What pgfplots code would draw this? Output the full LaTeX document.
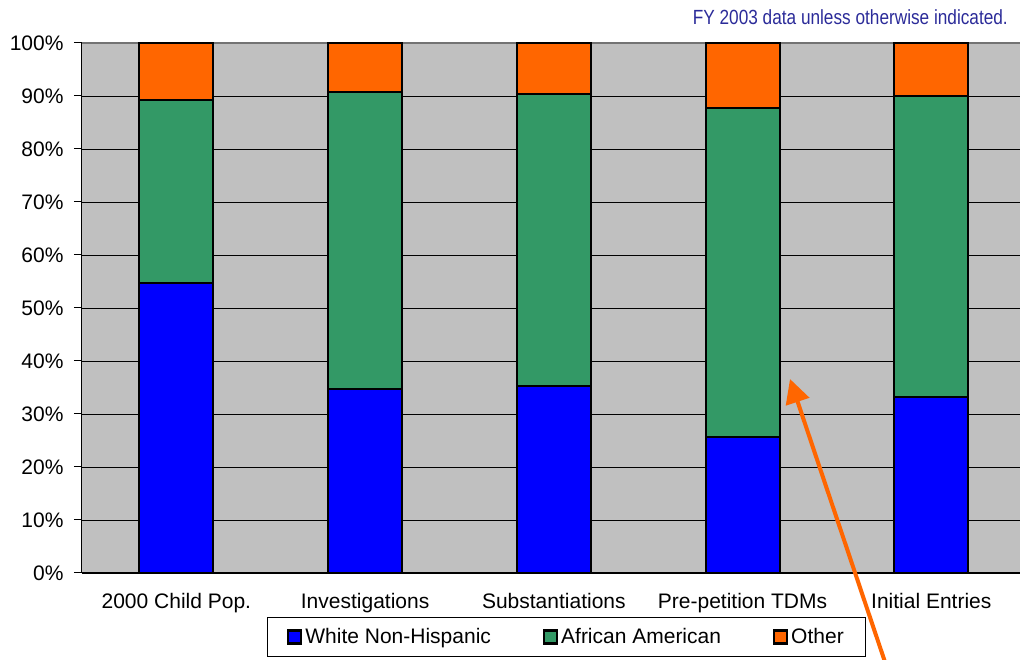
\documentclass[border=0pt]{standalone}
\usepackage{pgfplots}
\pgfplotsset{compat=1.18}
\usetikzlibrary{arrows.meta}
\usepackage{fontspec}
\setmainfont{Liberation Sans}
\definecolor{cwhite}{HTML}{0000FF}
\definecolor{caa}{HTML}{339966}
\definecolor{coth}{HTML}{FF6600}
\definecolor{bg}{HTML}{C0C0C0}
\definecolor{note}{HTML}{2B2B99}
\begin{document}
\begin{tikzpicture}[x=1bp,y=1bp]
\useasboundingbox (-82,-87) rectangle (938,573);
\begin{axis}[
  at={(0,0)}, anchor=south west,
  scale only axis, width=938bp, height=530bp,
  font=\fontsize{21bp}{25bp}\selectfont,
  /pgf/number format/assume math mode=true,
  ybar stacked, bar width=74bp,
  xmin=-0.5, xmax=4.47, ymin=0, ymax=100,
  clip=false,
  axis background/.style={fill=bg},
  axis x line*=bottom, axis y line*=left,
  axis line style={black, line width=1bp},
  ytick={0,10,...,90},
  yticklabel={\pgfmathprintnumber{\tick}\%},
  extra y ticks={100},
  extra y tick labels={100\%},
  extra y tick style={grid style={draw=gray!90!black, line width=2bp}},
  ymajorgrids, grid style={black, line width=0.9bp},
  tick align=outside,
  major tick length=8bp,
  minor tick length=8bp,
  ytick style={black, line width=1bp},
  xtick={0,1,2,3,4},
  xticklabels={2000 Child Pop., Investigations, Substantiations, Pre-petition TDMs, Initial Entries},
  xtick style={draw=none},
  minor xtick={-0.5,0.5,1.5,2.5,3.5},
  minor x tick style={black, line width=1bp},
  xticklabel style={yshift=-9bp},
  yticklabel style={xshift=-7bp},
  legend columns=3,
  legend style={at={(rel axis cs:0.5165,-0.1208)}, anchor=center,
    draw=black, line width=0.8bp, fill=white,
    font=\fontsize{21bp}{25bp}\selectfont,
    inner xsep=20bp, inner ysep=9bp,
    /tikz/every even column/.append style={column sep=50bp},
    /tikz/every odd column/.append style={column sep=1bp}},
  legend image code/.code={\draw[#1, draw=black, line width=2.2bp] (0bp,-6.5bp) rectangle (13bp,6.5bp);},
  every axis plot/.append style={draw=black, line width=2bp},
]
\addplot[fill=cwhite] coordinates {(0,54.7) (1,34.8) (2,35.3) (3,25.6) (4,33.3)};
\addplot[fill=caa] coordinates {(0,34.5) (1,56.0) (2,55.1) (3,62.1) (4,56.7)};
\addplot[fill=coth] coordinates {(0,10.8) (1,9.2) (2,9.6) (3,12.3) (4,10.0)};
\legend{White Non-Hispanic, African American, Other}
\end{axis}
\draw[coth, line width=4bp, -{Triangle[length=24bp,width=24bp]}] (804,-92) -- (708,194);
\node[anchor=east, inner sep=0pt, text=note] at (926,556) {\scalebox{0.84}[1]{\fontsize{20.5bp}{24bp}\selectfont FY 2003 data unless otherwise indicated.}};
\end{tikzpicture}
\end{document}
